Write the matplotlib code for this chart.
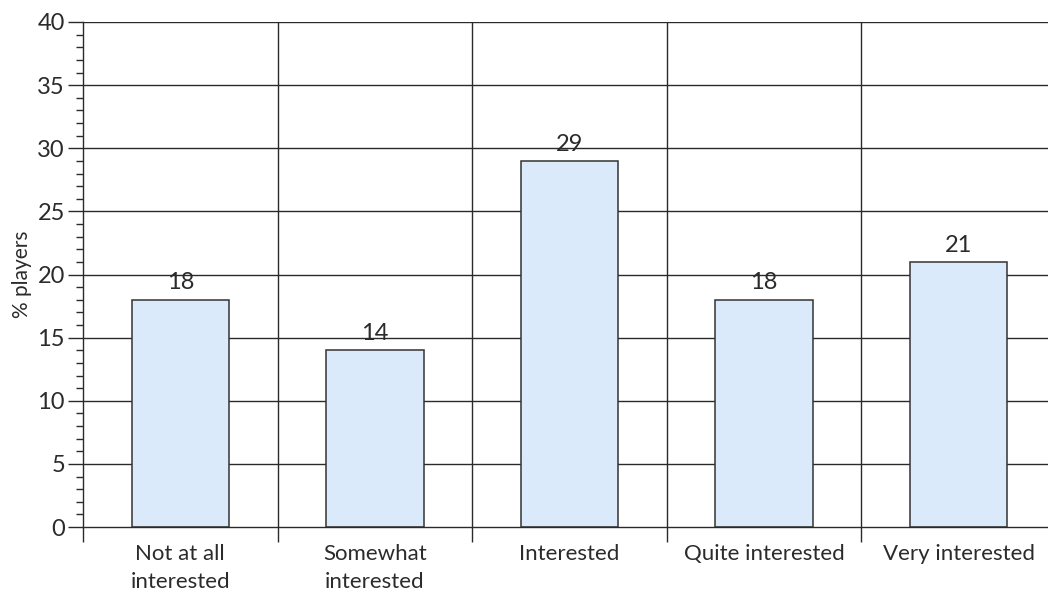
import matplotlib.pyplot as plt
from matplotlib.ticker import MultipleLocator

categories = ["Not at all\ninterested", "Somewhat\ninterested", "Interested",
              "Quite interested", "Very interested"]
values = [18, 14, 29, 18, 21]

plt.rcParams['font.family'] = ['Lato', 'DejaVu Sans']

fig = plt.figure(figsize=(10.48, 6), dpi=100)
ax = fig.add_axes([83 / 1048, 73 / 600, 973 / 1048, 505 / 600])

text_col = '#2b2b2b'
grid_col = '#2a2a2a'

x = list(range(len(categories)))
ax.bar(x, values, width=0.5, color='#dbeafb', edgecolor='#333333', linewidth=1.1, zorder=1)
for xi, v in zip(x, values):
    ax.text(xi, v + 0.5, str(v), ha='center', va='bottom', fontsize=17,
            color=text_col, zorder=0)

ax.set_xlim(-0.5, len(categories) - 0.5)
ax.set_ylim(0, 40)

# horizontal grid at the major y ticks, vertical lines between categories
for y in range(5, 41, 5):
    ax.axhline(y, color=grid_col, linewidth=1.0, zorder=0.5)
for b in range(1, len(categories)):
    ax.axvline(b - 0.5, color=grid_col, linewidth=1.0, zorder=0.5)

ax.yaxis.set_major_locator(MultipleLocator(5))
ax.yaxis.set_minor_locator(MultipleLocator(1))
ax.tick_params(axis='y', which='major', length=11, width=1.0, color=grid_col,
               labelsize=17, labelcolor=text_col, pad=2)
ax.tick_params(axis='y', which='minor', length=5, width=1.0, color=grid_col)

ax.set_xticks([b - 0.5 for b in range(len(categories) + 1)])
ax.set_xticklabels([])
ax.set_xticks(x, minor=True)
ax.set_xticklabels(categories, minor=True, fontsize=16, color=text_col,
                   linespacing=1.5)
ax.tick_params(axis='x', which='major', length=11, width=1.0, color=grid_col)
ax.tick_params(axis='x', which='minor', length=0, pad=12)

for side in ['top', 'right']:
    ax.spines[side].set_visible(False)
for side in ['left', 'bottom']:
    ax.spines[side].set_color(grid_col)
    ax.spines[side].set_linewidth(1.0)

ax.set_ylabel('% players', fontsize=15, color=text_col, labelpad=4)

fig.savefig('out.png', dpi=100)
